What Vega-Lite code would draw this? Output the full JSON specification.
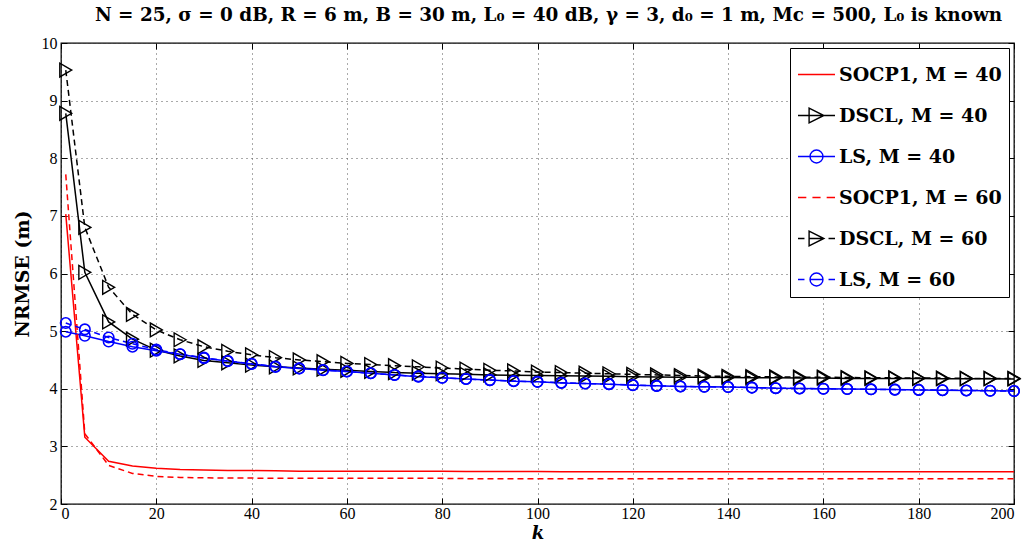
{
"$schema": "https://vega.github.io/schema/vega-lite/v6.json",
"width": 953, "height": 461,
"autosize": "none",
"padding": {"left": 61, "top": 43, "right": 16, "bottom": 40},
"title": {"text": "N = 25, σ = 0 dB, R = 6 m, B = 30 m, L₀ = 40 dB, γ = 3, d₀ = 1 m, Mc = 500, L₀ is known", "font": "DejaVu Serif", "fontSize": 18.4, "fontWeight": "bold", "offset": 11, "anchor": "middle", "color": "black", "dx": 11},
"config": {
  "view": {"stroke": "black", "strokeWidth": 1.3},
  "axis": {"labelFont": "Liberation Sans Narrow", "labelFontSize": 16, "labelColor": "black", "tickColor": "black", "tickSize": -6, "grid": true, "gridDash": [1, 4], "gridColor": "#555", "gridWidth": 1, "domain": false, "titleColor": "black", "labelPadding": 10}
},
"datasets": {"d": [
{"s":"S40","k":1,"v":7.03},{"s":"S40","k":5,"v":3.16},{"s":"S40","k":10,"v":2.74},{"s":"S40","k":15,"v":2.66},{"s":"S40","k":20,"v":2.62},{"s":"S40","k":25,"v":2.6},{"s":"S40","k":30,"v":2.59},{"s":"S40","k":35,"v":2.58},{"s":"S40","k":40,"v":2.58},{"s":"S40","k":45,"v":2.575},{"s":"S40","k":50,"v":2.57},{"s":"S40","k":55,"v":2.57},{"s":"S40","k":60,"v":2.57},{"s":"S40","k":65,"v":2.57},{"s":"S40","k":70,"v":2.57},{"s":"S40","k":75,"v":2.57},{"s":"S40","k":80,"v":2.57},{"s":"S40","k":85,"v":2.565},{"s":"S40","k":90,"v":2.565},{"s":"S40","k":95,"v":2.565},{"s":"S40","k":100,"v":2.565},{"s":"S40","k":105,"v":2.56},{"s":"S40","k":110,"v":2.56},{"s":"S40","k":115,"v":2.56},{"s":"S40","k":120,"v":2.56},{"s":"S40","k":125,"v":2.56},{"s":"S40","k":130,"v":2.56},{"s":"S40","k":135,"v":2.56},{"s":"S40","k":140,"v":2.56},{"s":"S40","k":145,"v":2.56},{"s":"S40","k":150,"v":2.56},{"s":"S40","k":155,"v":2.56},{"s":"S40","k":160,"v":2.56},{"s":"S40","k":165,"v":2.56},{"s":"S40","k":170,"v":2.56},{"s":"S40","k":175,"v":2.56},{"s":"S40","k":180,"v":2.56},{"s":"S40","k":185,"v":2.56},{"s":"S40","k":190,"v":2.56},{"s":"S40","k":195,"v":2.56},{"s":"S40","k":200,"v":2.56},
{"s":"D40","k":1,"v":8.78},{"s":"D40","k":5,"v":6.02},{"s":"D40","k":10,"v":5.16},{"s":"D40","k":15,"v":4.86},{"s":"D40","k":20,"v":4.67},{"s":"D40","k":25,"v":4.57},{"s":"D40","k":30,"v":4.49},{"s":"D40","k":35,"v":4.45},{"s":"D40","k":40,"v":4.41},{"s":"D40","k":45,"v":4.38},{"s":"D40","k":50,"v":4.36},{"s":"D40","k":55,"v":4.34},{"s":"D40","k":60,"v":4.32},{"s":"D40","k":65,"v":4.3},{"s":"D40","k":70,"v":4.28},{"s":"D40","k":75,"v":4.27},{"s":"D40","k":80,"v":4.26},{"s":"D40","k":85,"v":4.25},{"s":"D40","k":90,"v":4.24},{"s":"D40","k":95,"v":4.235},{"s":"D40","k":100,"v":4.23},{"s":"D40","k":105,"v":4.225},{"s":"D40","k":110,"v":4.22},{"s":"D40","k":115,"v":4.215},{"s":"D40","k":120,"v":4.21},{"s":"D40","k":125,"v":4.205},{"s":"D40","k":130,"v":4.2},{"s":"D40","k":135,"v":4.2},{"s":"D40","k":140,"v":4.195},{"s":"D40","k":145,"v":4.19},{"s":"D40","k":150,"v":4.19},{"s":"D40","k":155,"v":4.185},{"s":"D40","k":160,"v":4.185},{"s":"D40","k":165,"v":4.18},{"s":"D40","k":170,"v":4.18},{"s":"D40","k":175,"v":4.18},{"s":"D40","k":180,"v":4.18},{"s":"D40","k":185,"v":4.175},{"s":"D40","k":190,"v":4.175},{"s":"D40","k":195,"v":4.175},{"s":"D40","k":200,"v":4.17},
{"s":"L40","k":1,"v":4.99},{"s":"L40","k":5,"v":4.92},{"s":"L40","k":10,"v":4.82},{"s":"L40","k":15,"v":4.73},{"s":"L40","k":20,"v":4.66},{"s":"L40","k":25,"v":4.6},{"s":"L40","k":30,"v":4.53},{"s":"L40","k":35,"v":4.48},{"s":"L40","k":40,"v":4.43},{"s":"L40","k":45,"v":4.38},{"s":"L40","k":50,"v":4.35},{"s":"L40","k":55,"v":4.32},{"s":"L40","k":60,"v":4.3},{"s":"L40","k":65,"v":4.27},{"s":"L40","k":70,"v":4.24},{"s":"L40","k":75,"v":4.21},{"s":"L40","k":80,"v":4.19},{"s":"L40","k":85,"v":4.17},{"s":"L40","k":90,"v":4.15},{"s":"L40","k":95,"v":4.13},{"s":"L40","k":100,"v":4.12},{"s":"L40","k":105,"v":4.1},{"s":"L40","k":110,"v":4.09},{"s":"L40","k":115,"v":4.08},{"s":"L40","k":120,"v":4.06},{"s":"L40","k":125,"v":4.05},{"s":"L40","k":130,"v":4.04},{"s":"L40","k":135,"v":4.035},{"s":"L40","k":140,"v":4.03},{"s":"L40","k":145,"v":4.02},{"s":"L40","k":150,"v":4.01},{"s":"L40","k":155,"v":4.005},{"s":"L40","k":160,"v":4.0},{"s":"L40","k":165,"v":3.995},{"s":"L40","k":170,"v":3.99},{"s":"L40","k":175,"v":3.985},{"s":"L40","k":180,"v":3.98},{"s":"L40","k":185,"v":3.975},{"s":"L40","k":190,"v":3.97},{"s":"L40","k":195,"v":3.965},{"s":"L40","k":200,"v":3.96},
{"s":"S60","k":1,"v":7.72},{"s":"S60","k":5,"v":3.22},{"s":"S60","k":10,"v":2.67},{"s":"S60","k":15,"v":2.53},{"s":"S60","k":20,"v":2.48},{"s":"S60","k":25,"v":2.46},{"s":"S60","k":30,"v":2.455},{"s":"S60","k":35,"v":2.45},{"s":"S60","k":40,"v":2.45},{"s":"S60","k":45,"v":2.445},{"s":"S60","k":50,"v":2.445},{"s":"S60","k":55,"v":2.445},{"s":"S60","k":60,"v":2.445},{"s":"S60","k":65,"v":2.445},{"s":"S60","k":70,"v":2.445},{"s":"S60","k":75,"v":2.445},{"s":"S60","k":80,"v":2.445},{"s":"S60","k":85,"v":2.44},{"s":"S60","k":90,"v":2.44},{"s":"S60","k":95,"v":2.44},{"s":"S60","k":100,"v":2.44},{"s":"S60","k":105,"v":2.44},{"s":"S60","k":110,"v":2.44},{"s":"S60","k":115,"v":2.44},{"s":"S60","k":120,"v":2.44},{"s":"S60","k":125,"v":2.44},{"s":"S60","k":130,"v":2.44},{"s":"S60","k":135,"v":2.44},{"s":"S60","k":140,"v":2.44},{"s":"S60","k":145,"v":2.44},{"s":"S60","k":150,"v":2.44},{"s":"S60","k":155,"v":2.44},{"s":"S60","k":160,"v":2.44},{"s":"S60","k":165,"v":2.44},{"s":"S60","k":170,"v":2.44},{"s":"S60","k":175,"v":2.44},{"s":"S60","k":180,"v":2.44},{"s":"S60","k":185,"v":2.44},{"s":"S60","k":190,"v":2.44},{"s":"S60","k":195,"v":2.44},{"s":"S60","k":200,"v":2.44},
{"s":"D60","k":1,"v":9.53},{"s":"D60","k":5,"v":6.8},{"s":"D60","k":10,"v":5.76},{"s":"D60","k":15,"v":5.29},{"s":"D60","k":20,"v":5.02},{"s":"D60","k":25,"v":4.85},{"s":"D60","k":30,"v":4.73},{"s":"D60","k":35,"v":4.65},{"s":"D60","k":40,"v":4.59},{"s":"D60","k":45,"v":4.54},{"s":"D60","k":50,"v":4.5},{"s":"D60","k":55,"v":4.47},{"s":"D60","k":60,"v":4.44},{"s":"D60","k":65,"v":4.42},{"s":"D60","k":70,"v":4.4},{"s":"D60","k":75,"v":4.38},{"s":"D60","k":80,"v":4.36},{"s":"D60","k":85,"v":4.34},{"s":"D60","k":90,"v":4.32},{"s":"D60","k":95,"v":4.31},{"s":"D60","k":100,"v":4.29},{"s":"D60","k":105,"v":4.28},{"s":"D60","k":110,"v":4.27},{"s":"D60","k":115,"v":4.26},{"s":"D60","k":120,"v":4.25},{"s":"D60","k":125,"v":4.24},{"s":"D60","k":130,"v":4.23},{"s":"D60","k":135,"v":4.22},{"s":"D60","k":140,"v":4.215},{"s":"D60","k":145,"v":4.21},{"s":"D60","k":150,"v":4.205},{"s":"D60","k":155,"v":4.2},{"s":"D60","k":160,"v":4.2},{"s":"D60","k":165,"v":4.195},{"s":"D60","k":170,"v":4.19},{"s":"D60","k":175,"v":4.19},{"s":"D60","k":180,"v":4.185},{"s":"D60","k":185,"v":4.185},{"s":"D60","k":190,"v":4.18},{"s":"D60","k":195,"v":4.18},{"s":"D60","k":200,"v":4.18},
{"s":"L60","k":1,"v":5.14},{"s":"L60","k":5,"v":5.03},{"s":"L60","k":10,"v":4.89},{"s":"L60","k":15,"v":4.78},{"s":"L60","k":20,"v":4.68},{"s":"L60","k":25,"v":4.6},{"s":"L60","k":30,"v":4.54},{"s":"L60","k":35,"v":4.48},{"s":"L60","k":40,"v":4.435},{"s":"L60","k":45,"v":4.385},{"s":"L60","k":50,"v":4.355},{"s":"L60","k":55,"v":4.325},{"s":"L60","k":60,"v":4.3},{"s":"L60","k":65,"v":4.27},{"s":"L60","k":70,"v":4.24},{"s":"L60","k":75,"v":4.215},{"s":"L60","k":80,"v":4.19},{"s":"L60","k":85,"v":4.17},{"s":"L60","k":90,"v":4.15},{"s":"L60","k":95,"v":4.135},{"s":"L60","k":100,"v":4.12},{"s":"L60","k":105,"v":4.105},{"s":"L60","k":110,"v":4.09},{"s":"L60","k":115,"v":4.08},{"s":"L60","k":120,"v":4.065},{"s":"L60","k":125,"v":4.05},{"s":"L60","k":130,"v":4.04},{"s":"L60","k":135,"v":4.035},{"s":"L60","k":140,"v":4.03},{"s":"L60","k":145,"v":4.02},{"s":"L60","k":150,"v":4.01},{"s":"L60","k":155,"v":4.005},{"s":"L60","k":160,"v":4.0},{"s":"L60","k":165,"v":3.995},{"s":"L60","k":170,"v":3.99},{"s":"L60","k":175,"v":3.985},{"s":"L60","k":180,"v":3.98},{"s":"L60","k":185,"v":3.975},{"s":"L60","k":190,"v":3.97},{"s":"L60","k":195,"v":3.965},{"s":"L60","k":200,"v":3.96}
]},
"data": {"name": "d"},
"encoding": {
  "color": {"field": "s", "type": "nominal",
    "scale": {"domain": ["S40","D40","L40","S60","D60","L60"], "range": ["#ff0000","#000000","#0000ff","#ff0000","#000000","#0000ff"]},
    "legend": {"title": null, "orient": "top-right", "offset": 5, "padding": 7, "strokeColor": "black", "fillColor": "white",
      "labelFont": "DejaVu Serif", "labelFontSize": 19, "labelFontWeight": "bold", "labelColor": "black", "labelLimit": 400,
      "symbolSize": 1369, "symbolStrokeWidth": 1.4, "rowPadding": 11, "labelOffset": 3, "symbolDash": [],
      "labelExpr": "(substring(datum.value,0,1)=='S' ? 'SOCP1' : substring(datum.value,0,1)=='D' ? 'DSCL' : 'LS') + ', M = ' + substring(datum.value,1)",
      "encode": {"symbols": {"update": {
        "shape": {"signal": "datum.value=='S40' ? 'M-1,0H1' : datum.value=='D40' ? 'M-1,0H1M-0.4,-0.4L0.4,0L-0.4,0.4Z' : datum.value=='L40' ? 'M-1,0H1M0.35,0A0.35,0.35,0,1,1,-0.35,0A0.35,0.35,0,1,1,0.35,0Z' : datum.value=='S60' ? 'M-1,0H-0.55M-0.22,0H0.22M0.55,0H1' : datum.value=='D60' ? 'M-1,0H-0.65M0.65,0H1M-0.4,0H0.4M-0.4,-0.4L0.4,0L-0.4,0.4Z' : 'M-1,0H-0.65M0.65,0H1M-0.35,0H0.35M0.35,0A0.35,0.35,0,1,1,-0.35,0A0.35,0.35,0,1,1,0.35,0Z'"},
        "fill": {"value": "transparent"},
        "opacity": {"value": 1}
      }}}
    }
  }
},
"resolve": {"axis": {"x": "independent", "y": "independent"}},
"layer": [
  {"transform": [{"filter": {"field": "s", "oneOf": ["S40","D40","L40"]}}],
   "mark": {"type": "line", "strokeWidth": 1.5},
   "encoding": {
     "x": {"field": "k", "type": "quantitative", "scale": {"domain": [0, 200], "nice": false},
       "axis": {"values": [0,20,40,60,80,100,120,140,160,180,200], "labelPadding": 7, "title": "k", "titleFont": "DejaVu Serif", "titleFontStyle": "italic", "titleFontWeight": "bold", "titleFontSize": 18, "titlePadding": 3}},
     "y": {"field": "v", "type": "quantitative", "scale": {"domain": [2, 10], "nice": false},
       "axis": {"values": [2,3,4,5,6,7,8,9,10], "title": "NRMSE (m)", "titleFont": "DejaVu Serif", "titleFontWeight": "bold", "titleFontSize": 19, "titlePadding": 9}}
   }},
  {"transform": [{"filter": {"field": "s", "oneOf": ["S60","D60","L60"]}}],
   "mark": {"type": "line", "strokeWidth": 1.5, "strokeDash": [6, 4]},
   "encoding": {
     "x": {"field": "k", "type": "quantitative", "axis": null},
     "y": {"field": "v", "type": "quantitative", "axis": null}
   }},
  {"transform": [{"filter": {"field": "s", "oneOf": ["D40","D60"]}}],
   "mark": {"type": "point", "shape": "triangle-right", "filled": false, "size": 190, "strokeWidth": 1.4, "opacity": 1},
   "encoding": {
     "x": {"field": "k", "type": "quantitative", "axis": {"orient": "top", "values": [0,20,40,60,80,100,120,140,160,180,200], "labels": false, "title": null, "grid": false}},
     "y": {"field": "v", "type": "quantitative", "axis": {"orient": "right", "values": [2,3,4,5,6,7,8,9,10], "labels": false, "title": null, "grid": false}}
   }},
  {"transform": [{"filter": {"field": "s", "oneOf": ["L40","L60"]}}],
   "mark": {"type": "point", "shape": "circle", "filled": false, "size": 110, "strokeWidth": 1.6, "opacity": 1},
   "encoding": {
     "x": {"field": "k", "type": "quantitative", "axis": null},
     "y": {"field": "v", "type": "quantitative", "axis": null}
   }}
]
}
